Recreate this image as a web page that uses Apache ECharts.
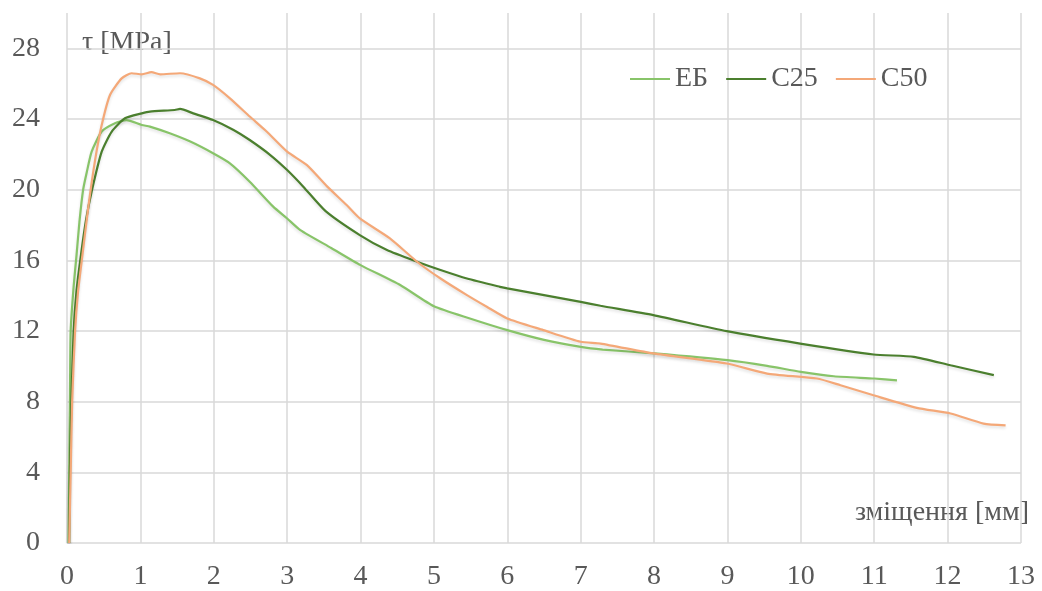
<!DOCTYPE html>
<html>
<head>
<meta charset="utf-8">
<script src="https://cdn.jsdelivr.net/npm/echarts@6/dist/echarts.min.js"></script>
<style>
html,body{margin:0;padding:0;background:#fff;}
#chart{width:1042px;height:591px;}
</style>
</head>
<body>
<div id="chart"></div>
<script>
// Data: [displacement (mm), tau (MPa)]
var seriesNames = ['ЕБ', 'C25', 'C50'];
var xTicks = [0,1,2,3,4,5,6,7,8,9,10,11,12,13];
var yTicks = [0,4,8,12,16,20,24,28];

var dataEB = [
  [0.02,0],[0.03,4],[0.04,8],[0.05,12],[0.09,14.5],[0.13,16.3],[0.17,18.2],[0.22,20],[0.27,21],
  [0.336,22.15],[0.473,23.29],[0.654,23.76],[0.81,23.94],[1.02,23.66],[1.13,23.57],[1.40,23.19],
  [1.68,22.72],[1.99,22.06],[2.22,21.49],[2.49,20.45],[2.81,19.04],[3.0,18.37],[3.18,17.71],
  [3.6,16.7],[4.0,15.73],[4.54,14.6],[5.0,13.4],[5.49,12.71],[6.0,12.05],[6.5,11.5],[7.0,11.1],
  [7.3,10.95],[8.0,10.73],[9.0,10.35],[9.54,10.03],[10.0,9.69],[10.45,9.44],[11.0,9.31],[11.31,9.21]
];
var dataC25 = [
  [0.03,0],[0.04,4],[0.06,8],[0.09,12],[0.13,14.3],[0.19,16.3],[0.26,18.3],[0.336,19.9],[0.473,22.15],
  [0.61,23.29],[0.79,24.04],[1.02,24.32],[1.13,24.42],[1.47,24.51],[1.54,24.57],[1.72,24.32],
  [1.99,23.94],[2.27,23.38],[2.49,22.81],[2.77,21.96],[3.0,21.11],[3.22,20.17],[3.52,18.8],
  [3.99,17.43],[4.36,16.58],[4.77,15.92],[5.09,15.45],[5.45,14.97],[5.9,14.5],[6.0,14.41],
  [7.0,13.65],[7.27,13.43],[7.99,12.9],[8.99,11.99],[9.99,11.29],[10.99,10.67],[11.54,10.54],
  [12.04,10.06],[12.63,9.5]
];
var dataC50 = [
  [0.03,0],[0.05,4],[0.07,8],[0.11,12],[0.15,14.2],[0.21,16.3],[0.29,19.0],[0.38,21.6],[0.47,23.6],
  [0.586,25.36],[0.745,26.3],[0.88,26.59],[1.02,26.53],[1.15,26.65],[1.27,26.53],[1.54,26.59],
  [1.81,26.3],[1.99,25.93],[2.22,25.17],[2.49,24.14],[2.72,23.29],[3.0,22.15],[3.27,21.39],
  [3.54,20.2],[3.81,19.13],[3.99,18.37],[4.40,17.24],[4.77,15.92],[5.09,14.97],[5.45,14.03],
  [5.72,13.37],[6.0,12.71],[6.49,12.05],[7.0,11.39],[7.27,11.29],[7.99,10.73],[8.99,10.16],
  [9.54,9.59],[10.22,9.31],[10.54,8.93],[10.99,8.36],[11.58,7.65],[12.04,7.33],[12.49,6.76],[12.79,6.66]
];

var FONT = "'Liberation Serif', 'Times New Roman', serif";
var FS = 28;
var TXT = '#595959';
var GRID = '#d9d9d9';
var colors = ['#88c469', '#4b7f2e', '#f4a878'];

var chart = echarts.init(document.getElementById('chart'), null, {renderer: 'canvas'});

function mkSeries(name, data, color) {
  return {
    name: name, type: 'line', data: data, showSymbol: false, symbol: 'none',
    smooth: 0.2, animation: false,
    lineStyle: {color: color, width: 2.2, shadowColor: 'rgba(0,0,0,0.12)', shadowBlur: 3, shadowOffsetY: 2},
    itemStyle: {color: color}
  };
}

var yMax = 30;
var splitColors = yTicks.map(function(){ return GRID; }).concat(['rgba(0,0,0,0)']);

chart.setOption({
  backgroundColor: '#ffffff',
  textStyle: {fontFamily: FONT, color: TXT},
  grid: {left: 67, right: 21, top: 13, bottom: 47, containLabel: false},
  legend: {
    data: seriesNames, left: 625, top: 60, itemWidth: 40, itemHeight: 14, itemGap: 18,
    icon: 'path://M0,0 L40,0 L40,2 L0,2 Z',
    textStyle: {fontFamily: FONT, fontSize: FS, color: TXT}
  },
  xAxis: {
    type: 'value', min: 0, max: 13, interval: 1,
    axisLine: {show: false}, axisTick: {show: false},
    axisLabel: {fontFamily: FONT, fontSize: FS, color: TXT, margin: 20,
      formatter: function(v){ return xTicks.indexOf(v) >= 0 ? String(v) : ''; }},
    splitLine: {show: true, lineStyle: {color: GRID, width: 1.5}}
  },
  yAxis: {
    type: 'value', min: 0, max: yMax, interval: 4,
    axisLine: {show: false}, axisTick: {show: false},
    axisLabel: {fontFamily: FONT, fontSize: FS, color: TXT, margin: 27, showMaxLabel: false,
      formatter: function(v){ return yTicks.indexOf(v) >= 0 ? String(v) : ''; }},
    splitLine: {show: true, lineStyle: {color: splitColors, width: 1.5}}
  },
  graphic: [
    {type: 'text', left: 82, top: 29, style: {text: 'τ [MPa]', font: FS + 'px ' + FONT, fill: TXT}},
    {type: 'text', right: 13, top: 499, style: {text: 'зміщення [мм]', font: FS + 'px ' + FONT, fill: TXT}}
  ],
  series: [
    mkSeries(seriesNames[0], dataEB, colors[0]),
    mkSeries(seriesNames[1], dataC25, colors[1]),
    mkSeries(seriesNames[2], dataC50, colors[2])
  ]
});
</script>
</body>
</html>
